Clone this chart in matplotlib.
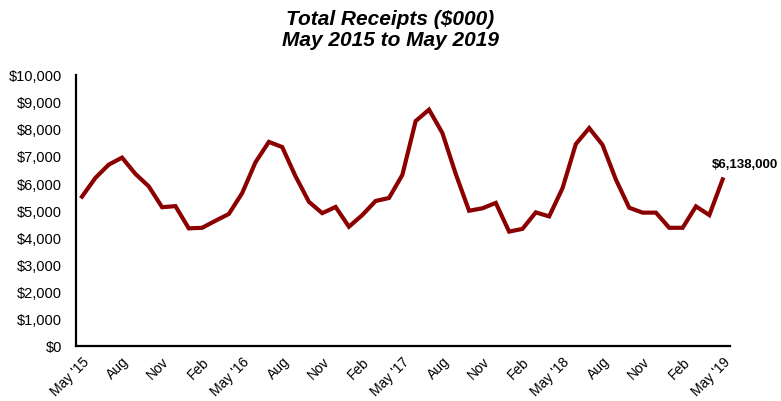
import matplotlib.pyplot as plt
import numpy as np

plt.rcParams['font.family'] = ['Liberation Sans', 'DejaVu Sans']

# monthly receipts ($000), May 2015 .. May 2019
receipts = [5500, 6190, 6680, 6940, 6340, 5880, 5110, 5150, 4330, 4350, 4610, 4860,
            5630, 6770, 7520, 7330, 6250, 5310, 4890, 5120, 4390, 4820, 5340, 5450,
            6300, 8290, 8710, 7850, 6340, 4980, 5070, 5270, 4210, 4310, 4920, 4770,
            5810, 7440, 8030, 7410, 6130, 5090, 4910, 4910, 4350, 4350, 5140, 4820,
            6138]
tick_labels = ["May '15", "Aug", "Nov", "Feb", "May '16", "Aug", "Nov", "Feb",
               "May '17", "Aug", "Nov", "Feb", "May '18", "Aug", "Nov", "Feb", "May '19"]
last_label = "$6,138,000"

x = np.arange(len(receipts))

fig = plt.figure(figsize=(7.81, 4.02), dpi=100)
ax = fig.add_axes([0.0973, 0.1376, 0.8374, 0.6741])

ax.plot(x, receipts, color='#8B0000', linewidth=3, solid_joinstyle='miter')

ax.set_xlim(-0.45, 48.55)
ax.set_ylim(0, 10000)
ax.set_yticks(np.arange(0, 10001, 1000))
ax.set_yticklabels(['${:,.0f}'.format(v) for v in np.arange(0, 10001, 1000)], fontsize=10.5)
ax.set_xticks(np.arange(0, len(receipts), 3))
ax.set_xticklabels(tick_labels, fontsize=10, rotation=45, ha='right', va='top',
                   rotation_mode='anchor')
ax.tick_params(axis='x', length=0, pad=6)
ax.tick_params(axis='y', length=0, pad=10)

for s in ['top', 'right']:
    ax.spines[s].set_visible(False)
for s in ['left', 'bottom']:
    ax.spines[s].set_linewidth(1.6)
    ax.spines[s].set_color('black')

ax.annotate(last_label, xy=(x[-1], receipts[-1]), xytext=(-8, 11),
            textcoords='offset points', ha='left', va='center',
            fontsize=9.5, fontweight='bold', annotation_clip=False)

fig.text(0.5, 0.975, 'Total Receipts ($000)\nMay 2015 to May 2019', ha='center', va='top',
         fontsize=15, fontweight='bold', fontstyle='italic', linespacing=1.15)

fig.savefig('out.png', dpi=100)
